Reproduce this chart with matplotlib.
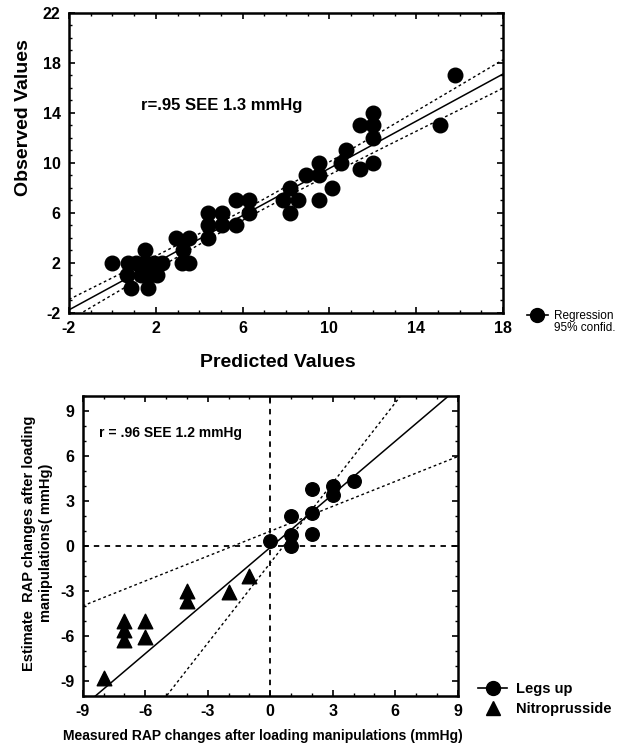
import matplotlib.pyplot as plt
import numpy as np
from matplotlib.lines import Line2D
from matplotlib.ticker import MultipleLocator

plt.rcParams['font.family'] = ['Liberation Sans', 'DejaVu Sans']
plt.rcParams['axes.unicode_minus'] = False

# top panel: predicted vs observed
pred = [0.0, 0.7, 0.65, 0.85, 1.1, 1.5, 1.3, 1.65, 1.5, 1.9, 2.05, 2.3, 1.75,
        2.95, 3.25, 3.2, 3.55, 3.55, 4.4, 4.4, 4.4, 5.05, 5.05, 5.7, 5.7,
        6.3, 6.3, 7.85, 8.2, 8.2, 8.55, 8.9, 9.5, 9.5, 9.5, 10.1, 10.55,
        10.75, 11.4, 11.4, 12.0, 12.0, 12.0, 12.0, 15.1, 15.8]
obs = [2, 2, 1, 0, 2, 3, 1, 0, 2, 2, 1, 2, 1,
       4, 3, 2, 2, 4, 4, 5, 6, 6, 5, 5, 7,
       7, 6, 7, 8, 6, 7, 9, 9, 10, 7, 8, 10,
       11, 13, 9.5, 14, 13, 12, 10, 13, 17]
reg_a, reg_b = 0.135, 0.9425

# bottom panel: loading manipulations
legs_x = [0, 1, 1, 1, 2, 2, 2, 3, 3, 4]
legs_y = [0.3, 2.0, 0.7, 0.0, 3.8, 2.2, 0.8, 4.0, 3.4, 4.3]
nitro_x = [-8, -7, -7, -7, -6, -6, -4, -4, -2, -1]
nitro_y = [-8.8, -5.0, -5.6, -6.3, -5.0, -6.1, -3.0, -3.7, -3.1, -2.0]
line_b, line_a = 1.18, -0.1
ci_slopes = [0.553, 1.78]
ci_center = (1.73, 1.94)

fig = plt.figure(figsize=(6.25, 7.47), dpi=100)

# ---- top
ax1 = fig.add_axes([0.1104, 0.581, 0.6944, 0.402])
ax1.scatter(pred, obs, s=110, color='black', zorder=3)
xs = np.linspace(-2, 18, 200)
ax1.plot(xs, reg_a + reg_b * xs, color='black', lw=1.1)
p = np.array(pred)
n = len(p)
s = 1.3
sxx = ((p - p.mean()) ** 2).sum()
hw = 2.01 * s * np.sqrt(1 / n + (xs - p.mean()) ** 2 / sxx)
ax1.plot(xs, reg_a + reg_b * xs + hw, color='black', lw=1.0, ls=(0, (2, 2)))
ax1.plot(xs, reg_a + reg_b * xs - hw, color='black', lw=1.0, ls=(0, (2, 2)))
ax1.set_xlim(-2, 18)
ax1.set_ylim(-2, 22)
ax1.set_xticks(np.arange(-2, 19, 4))
ax1.set_yticks(np.arange(-2, 23, 4))
ax1.xaxis.set_minor_locator(MultipleLocator(1))
ax1.yaxis.set_minor_locator(MultipleLocator(1))
ax1.text(1.32, 14.6, 'r=.95 SEE 1.3 mmHg', fontsize=12, fontweight='bold', va='center')
ax1.set_xlabel('Predicted Values', fontsize=14, fontweight='bold')
ax1.set_ylabel('Observed Values', fontsize=14, fontweight='bold')
ax1.xaxis.set_label_coords(0.48, -0.135)
ax1.yaxis.set_label_coords(-0.085, 0.65)
h1 = Line2D([], [], color='black', marker='o', markersize=10, lw=1.2)
h1b = Line2D([], [], lw=0)
ax1.legend([h1, h1b], ['Regression', '95% confid.'], loc='center left',
           bbox_to_anchor=(1.03, -0.03), frameon=False, fontsize=8.5,
           handlelength=1.8, handletextpad=0.5, labelspacing=0.05)

# ---- bottom
ax2 = fig.add_axes([0.1323, 0.0683, 0.6, 0.4016])
ax2.axvline(0, color='black', lw=1.3, ls=(0, (3, 3)))
ax2.axhline(0, color='black', lw=1.3, ls=(0, (3, 3)))
ax2.scatter(legs_x, legs_y, s=95, color='black', marker='o', zorder=3)
ax2.scatter(nitro_x, nitro_y, s=110, color='black', marker='^', zorder=3)
xb = np.linspace(-9, 9, 100)
ax2.plot(xb, line_a + line_b * xb, color='black', lw=1.1)
for sl in ci_slopes:
    ax2.plot(xb, ci_center[1] + sl * (xb - ci_center[0]), color='black',
             lw=1.0, ls=(0, (2, 2)))
ax2.set_xlim(-9, 9)
ax2.set_ylim(-10, 10)
ax2.set_xticks(np.arange(-9, 10, 3))
ax2.set_yticks(np.arange(-9, 10, 3))
ax2.xaxis.set_minor_locator(MultipleLocator(1))
ax2.yaxis.set_minor_locator(MultipleLocator(1))
ax2.text(-8.2, 7.5, 'r = .96 SEE 1.2 mmHg', fontsize=10, fontweight='bold', va='center')
ax2.set_xlabel('Measured RAP changes after loading manipulations (mmHg)',
               fontsize=10, fontweight='bold')
ax2.set_ylabel('Estimate  RAP changes after loading\nmanipulations( mmHg)',
               fontsize=10.5, fontweight='bold')
ax2.xaxis.set_label_coords(0.48, -0.11)
ax2.yaxis.set_label_coords(-0.08, 0.51)
h2 = Line2D([], [], color='black', marker='o', markersize=10, lw=1.2)
h3 = Line2D([], [], color='black', marker='^', markersize=10, lw=0)
ax2.legend([h2, h3], ['Legs up', 'Nitroprusside'], loc='center left',
           bbox_to_anchor=(1.02, -0.01), frameon=False,
           prop={'weight': 'bold', 'size': 10.5}, handlelength=2.0,
           handletextpad=0.6, labelspacing=0.4)

for ax in (ax1, ax2):
    for sp in ax.spines.values():
        sp.set_linewidth(1.8)
    ax.tick_params(which='both', direction='in', top=True, right=True)
    ax.tick_params(which='major', length=4, width=1.2, labelsize=11.5, pad=6)
    ax.tick_params(which='minor', length=2.5, width=1.0)
    for lbl in ax.get_xticklabels() + ax.get_yticklabels():
        lbl.set_fontweight('bold')

fig.savefig('out.png', dpi=100)
